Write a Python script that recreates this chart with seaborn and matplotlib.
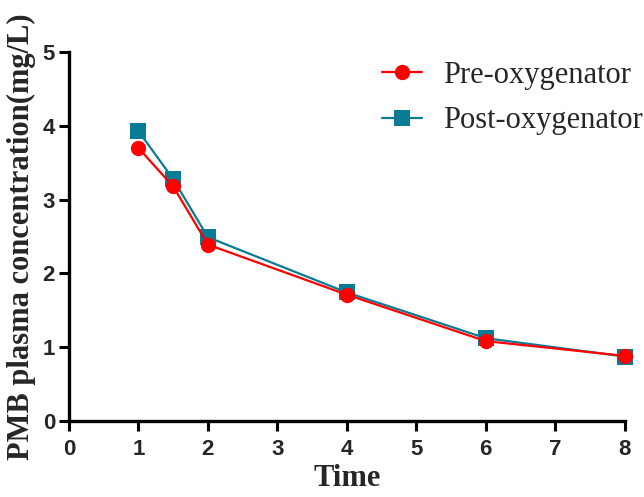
import matplotlib
matplotlib.use("Agg")
import matplotlib.pyplot as plt
import seaborn as sns
import pandas as pd

time = [1, 1.5, 2, 4, 6, 8]
pre = [3.70, 3.18, 2.39, 1.71, 1.08, 0.88]
post = [3.93, 3.28, 2.49, 1.74, 1.12, 0.87]
series = ["Pre-oxygenator", "Post-oxygenator"]
xticks = [0, 1, 2, 3, 4, 5, 6, 7, 8]
yticks = [0, 1, 2, 3, 4, 5]

df = pd.DataFrame({
    "Time": time * 2,
    "Conc": pre + post,
    "Group": [series[0]] * len(time) + [series[1]] * len(time),
})

sns.set_style("ticks")
fig = plt.figure(figsize=(6.44, 4.97), dpi=100)
ax = fig.add_axes([0.107, 0.1535, 0.863, 0.7415])

palette = {series[0]: "#FF0000", series[1]: "#0A7B95"}
sns.lineplot(data=df, x="Time", y="Conc", hue="Group", style="Group",
             markers={series[0]: "o", series[1]: "s"}, dashes=False,
             palette=palette, hue_order=series[::-1], style_order=series[::-1],
             markersize=11, markeredgewidth=0, linewidth=1.6, ax=ax)

ax.set_xlim(0, 8)
ax.set_ylim(0, 5)
ax.set_xticks(xticks)
ax.set_yticks(yticks)
ax.set_xticklabels([str(t) for t in xticks], fontfamily="Liberation Sans", fontweight="bold", fontsize=16)
ax.set_yticklabels([str(t) for t in yticks], fontfamily="Liberation Sans", fontweight="bold", fontsize=16)
ax.tick_params(axis="both", width=2.2, length=7, direction="out", color="black", pad=3)
ax.tick_params(axis="x", pad=6)
for s in ["left", "bottom"]:
    ax.spines[s].set_linewidth(2.4)
    ax.spines[s].set_color("black")
sns.despine(ax=ax)
for l in ax.lines:
    l.set_clip_on(False)

ax.set_xlabel("Time", fontfamily="Liberation Serif", fontweight="bold", fontsize=22, labelpad=3)
ax.set_ylabel("PMB plasma concentration(mg/L)", fontfamily="Liberation Serif", fontweight="bold", fontsize=22, labelpad=5)

handles, labels = ax.get_legend_handles_labels()
order = [labels.index(s) for s in series]
leg = ax.legend([handles[i] for i in order], [labels[i] for i in order],
                loc="upper left", bbox_to_anchor=(382 / 644, 1 - 61 / 497),
                bbox_transform=fig.transFigure, frameon=False,
                borderpad=0, borderaxespad=0,
                prop={"family": "Liberation Serif", "size": 22},
                handlelength=1.3, labelspacing=0.53, handletextpad=0.7)

fig.savefig("out.png", dpi=100)
